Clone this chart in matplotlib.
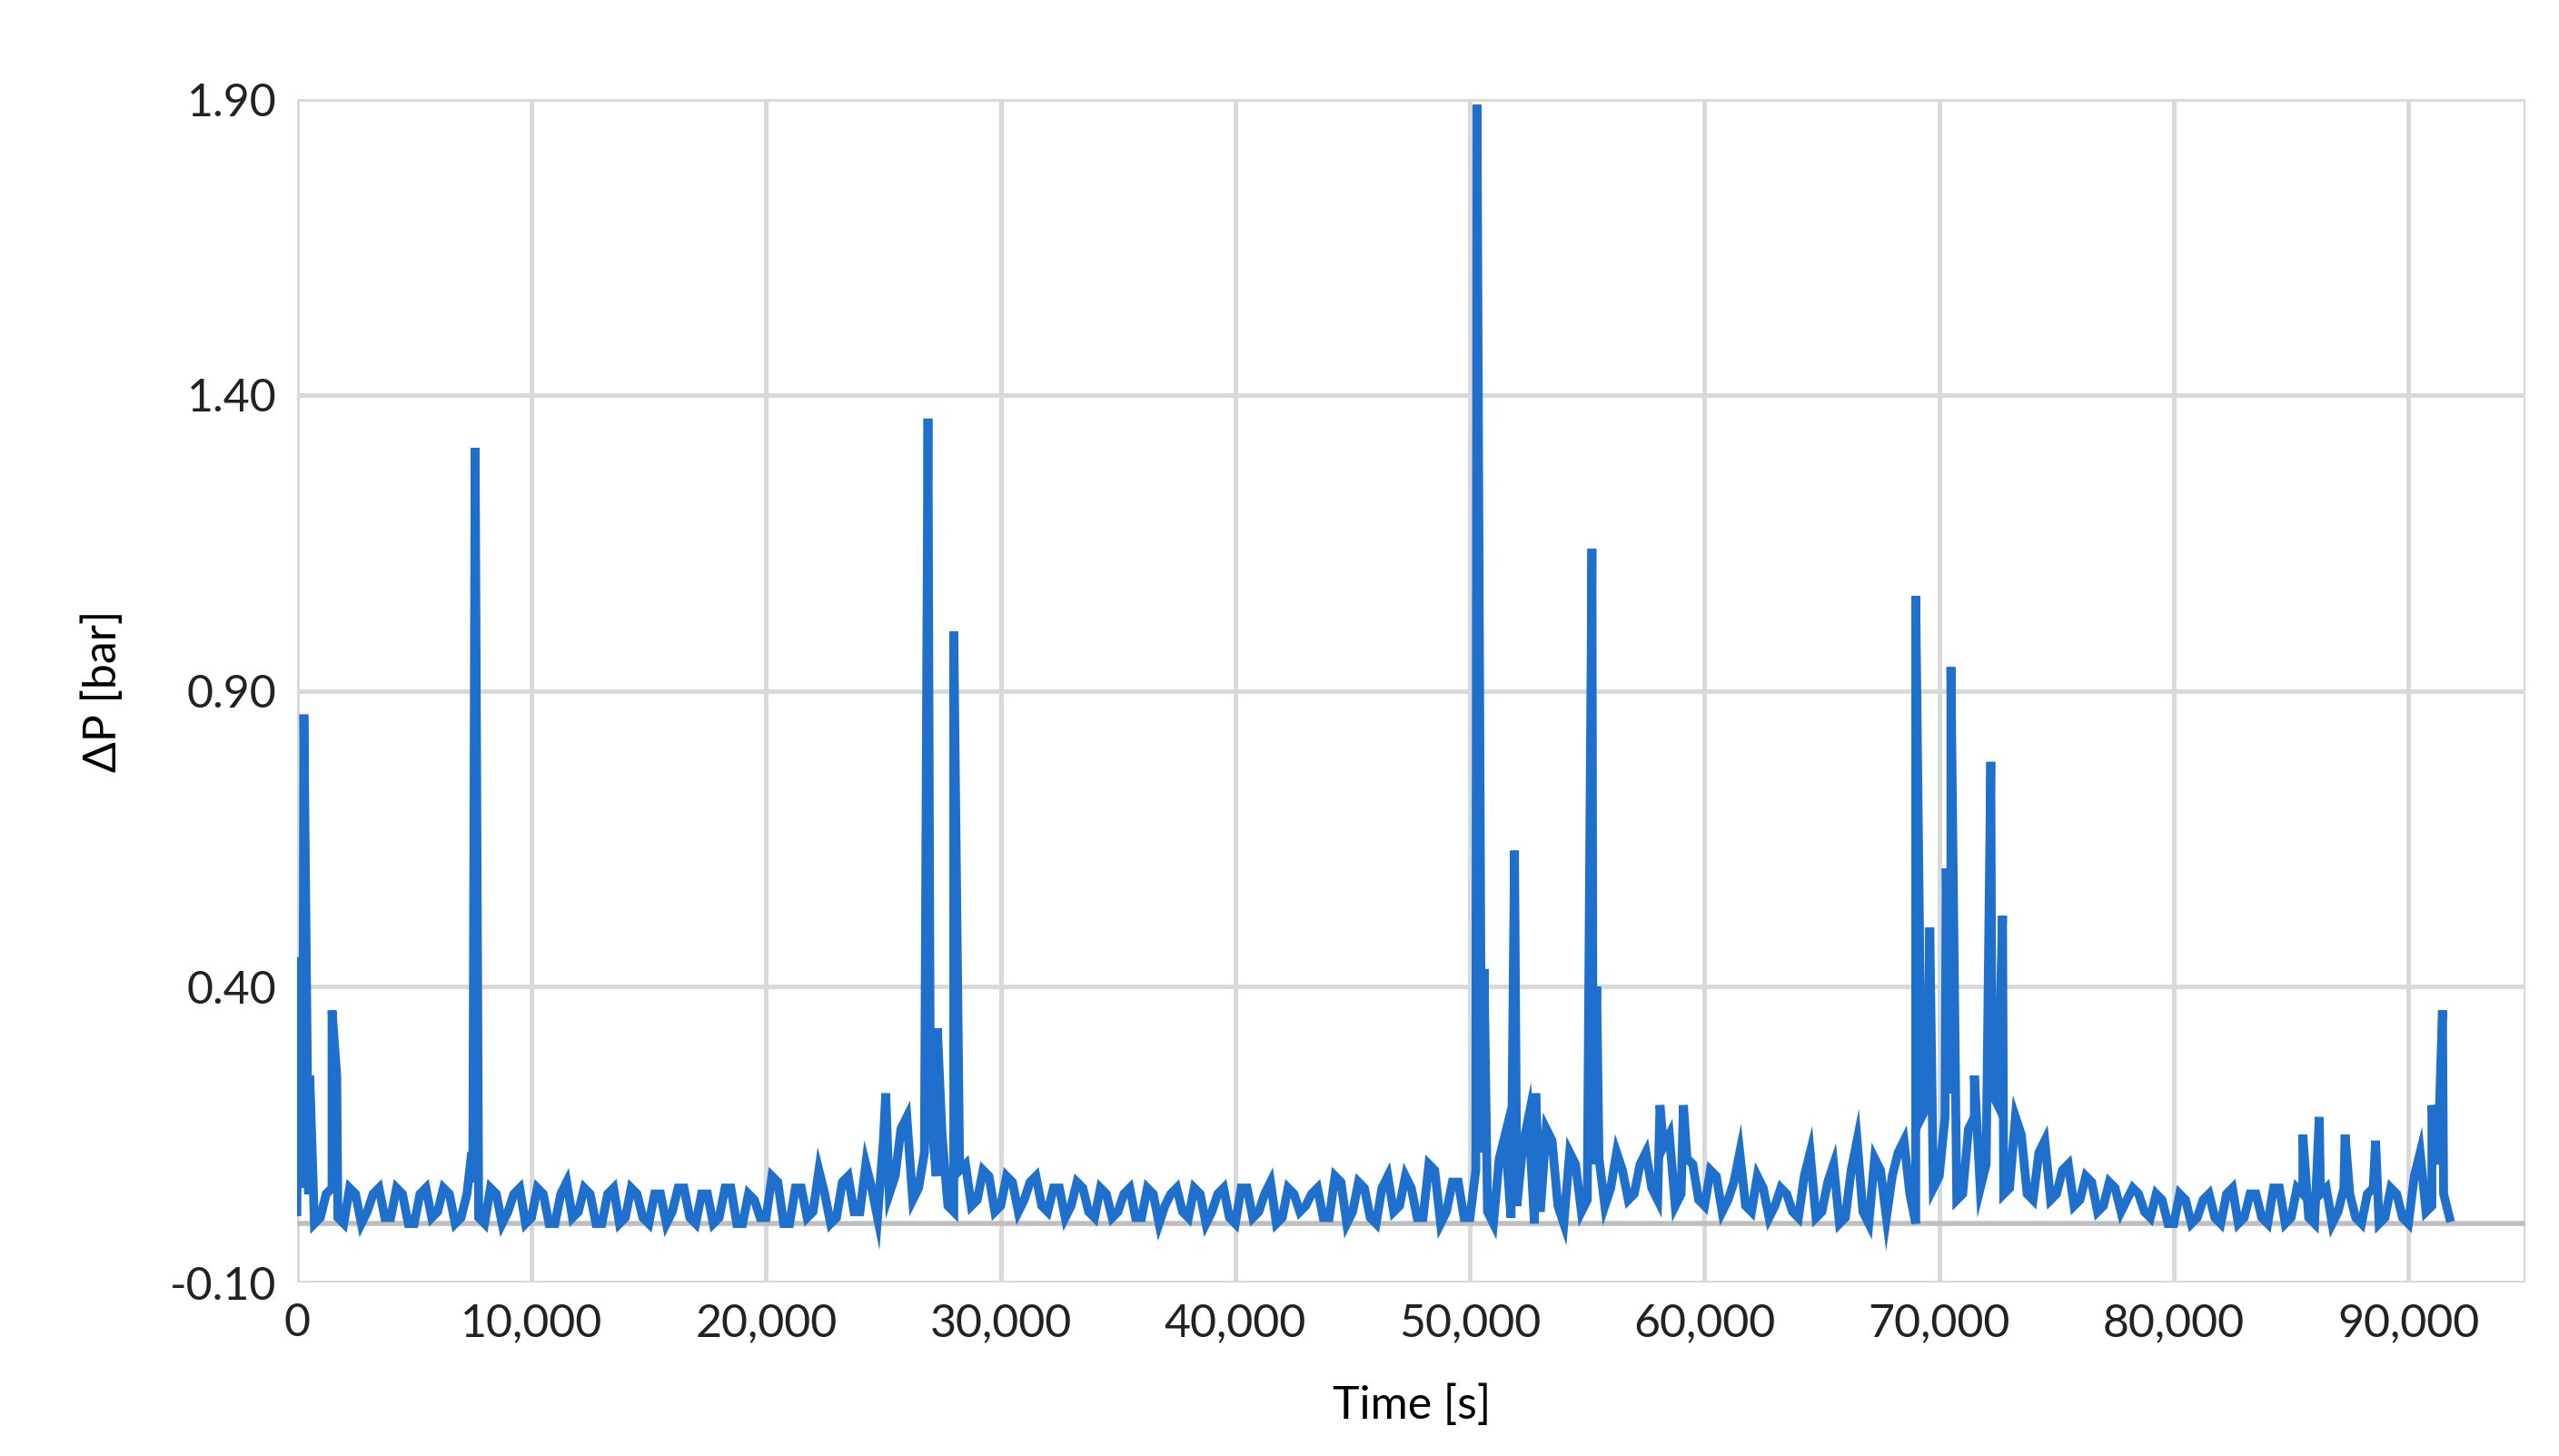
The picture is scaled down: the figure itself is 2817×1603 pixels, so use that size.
"""Pressure drop over time, recreated from reference."""

import matplotlib

matplotlib.use("Agg")
import matplotlib.pyplot as plt
from matplotlib.ticker import FuncFormatter
import numpy as np

# baseline readings every 500 s from 0 to 91,500 s
BASE_STEP = 500
base_values = [
    0.02, 0.05, 0.01, 0.06, 0.00, 0.05, 0.02, 0.06, 0.01, 0.05,
    0.00, 0.06, 0.02, 0.05, 0.01, 0.07, 0.00, 0.05, 0.02, 0.06,
    0.01, 0.05, 0.00, 0.07, 0.02, 0.05, 0.00, 0.06, 0.01, 0.05,
    0.00, 0.05, 0.02, 0.06, 0.00, 0.05, 0.01, 0.06, 0.00, 0.04,
    0.01, 0.07, 0.00, 0.06, 0.02, 0.05, 0.01, 0.08, 0.02, 0.06,
    0.14, 0.08, 0.18, 0.06, 0.20, 0.15, 0.02, 0.10, 0.04, 0.08,
    0.03, 0.07, 0.04, 0.08, 0.02, 0.06, 0.03, 0.06, 0.01, 0.05,
    0.02, 0.06, 0.01, 0.05, 0.03, 0.06, 0.01, 0.05, 0.02, 0.06,
    0.00, 0.06, 0.02, 0.07, 0.01, 0.05, 0.03, 0.06, 0.01, 0.07,
    0.02, 0.06, 0.00, 0.08, 0.03, 0.06, 0.01, 0.09, 0.02, 0.07,
    0.01, 0.12, 0.00, 0.15, 0.03, 0.18, 0.02, 0.14, 0.00, 0.10,
    0.04, 0.11, 0.06, 0.09, 0.05, 0.12, 0.04, 0.15, 0.05, 0.10,
    0.03, 0.08, 0.04, 0.12, 0.02, 0.06, 0.03, 0.05, 0.01, 0.12,
    0.02, 0.10, 0.01, 0.14, 0.00, 0.09, 0.08, 0.14, 0.00, 0.20,
    0.08, 0.22, 0.05, 0.18, 0.10, 0.20, 0.06, 0.15, 0.04, 0.14,
    0.05, 0.10, 0.04, 0.07, 0.03, 0.06, 0.04, 0.05, 0.01, 0.04,
    0.00, 0.04, 0.01, 0.05, 0.00, 0.06, 0.01, 0.05, 0.00, 0.06,
    0.01, 0.05, 0.00, 0.06, 0.02, 0.05, 0.00, 0.06, 0.01, 0.05,
    0.00, 0.12, 0.03, 0.05,
]

# readings in between, at 250 s + every 500 s
mid_values = [
    0.06, 0.00, 0.05, 0.01, 0.06, 0.00, 0.05, 0.01, 0.06, 0.00,
    0.05, 0.01, 0.06, 0.00, 0.05, 0.01, 0.06, 0.00, 0.05, 0.00,
    0.06, 0.00, 0.05, 0.01, 0.06, 0.00, 0.05, 0.00, 0.06, 0.01,
    0.05, 0.00, 0.06, 0.01, 0.05, 0.00, 0.06, 0.00, 0.05, 0.01,
    0.08, 0.00, 0.06, 0.01, 0.09, 0.00, 0.07, 0.02, 0.10, 0.01,
    0.05, 0.16, 0.04, 0.12, 0.08, 0.03, 0.09, 0.03, 0.09, 0.02,
    0.08, 0.02, 0.07, 0.03, 0.06, 0.01, 0.07, 0.02, 0.06, 0.01,
    0.05, 0.01, 0.06, 0.00, 0.05, 0.02, 0.06, 0.00, 0.05, 0.01,
    0.06, 0.01, 0.05, 0.00, 0.06, 0.02, 0.05, 0.01, 0.08, 0.00,
    0.07, 0.01, 0.06, 0.02, 0.08, 0.01, 0.10, 0.00, 0.07, 0.01,
    0.09, 0.02, 0.11, 0.01, 0.13, 0.00, 0.16, 0.03, 0.12, 0.02,
    0.10, 0.03, 0.12, 0.04, 0.10, 0.06, 0.13, 0.03, 0.11, 0.04,
    0.09, 0.02, 0.07, 0.03, 0.08, 0.01, 0.06, 0.02, 0.08, 0.01,
    0.07, 0.00, 0.09, 0.02, 0.11, 0.01, 0.12, 0.05, 0.18, 0.06,
    0.18, 0.04, 0.16, 0.06, 0.22, 0.05, 0.18, 0.05, 0.12, 0.04,
    0.09, 0.03, 0.08, 0.02, 0.07, 0.02, 0.06, 0.02, 0.05, 0.00,
    0.05, 0.00, 0.04, 0.01, 0.05, 0.00, 0.05, 0.01, 0.06, 0.00,
    0.06, 0.01, 0.05, 0.00, 0.06, 0.01, 0.05, 0.00, 0.06, 0.01,
    0.08, 0.02, 0.10, 0.01,
]

# spikes (time in s, dP in bar)
spike_times = [100, 300, 550, 1500, 1700, 7450, 7600, 25100, 26900, 27300,
               28000, 50300, 50600, 51900, 52800, 55200, 55400, 58100, 59100,
               69000, 69600, 70300, 70500, 71500, 72200, 72700, 85500, 86200,
               87300, 88600, 91000, 91450]
spike_values = [0.45, 0.86, 0.25, 0.36, 0.25, 0.12, 1.31, 0.22, 1.36, 0.33,
                1.00, 1.89, 0.43, 0.63, 0.22, 1.14, 0.40, 0.20, 0.20,
                1.06, 0.50, 0.60, 0.94, 0.25, 0.78, 0.52, 0.15, 0.18,
                0.15, 0.14, 0.20, 0.36]

x_ticks = [0, 10000, 20000, 30000, 40000, 50000, 60000, 70000, 80000, 90000]
y_ticks = [-0.10, 0.40, 0.90, 1.40, 1.90]

LINE_COLOR = "#1f6fcc"
GRID_COLOR = "#d9d9d9"

plt.rcParams["font.family"] = ["Lato", "DejaVu Sans"]


def main():
    base_t = np.arange(len(base_values)) * BASE_STEP
    mid_t = base_t[:len(mid_values)] + BASE_STEP // 2
    t = np.concatenate([base_t, mid_t, spike_times])
    v = np.concatenate([base_values, mid_values, spike_values])
    order = np.argsort(t, kind="stable")
    t, v = t[order], v[order]

    fig = plt.figure(figsize=(14.085, 8.015), dpi=200)
    ax = fig.add_axes([0.116, 0.119, 0.871, 0.813])

    ax.plot(t, v, color=LINE_COLOR, linewidth=3.5, solid_joinstyle="miter", zorder=3)
    ax.axhline(0, color="#bfbfbf", linewidth=2.0, zorder=2)

    ax.set_xlim(0, 95000)
    ax.set_ylim(-0.10, 1.90)
    ax.set_xticks(x_ticks)
    ax.set_yticks(y_ticks)
    ax.xaxis.set_major_formatter(FuncFormatter(lambda x, _: f"{int(x):,}"))
    ax.yaxis.set_major_formatter(FuncFormatter(lambda y, _: f"{y:.2f}"))
    ax.grid(True, color=GRID_COLOR, linewidth=1.8, zorder=0)
    ax.axvline(95000, color=GRID_COLOR, linewidth=1.8, zorder=0)
    for s in ax.spines.values():
        s.set_visible(False)
    ax.tick_params(length=0, labelsize=18, colors="#222222", pad=8)
    ax.set_xlabel("Time [s]", fontsize=18, labelpad=16)
    ax.set_ylabel("ΔP [bar]", fontsize=18, labelpad=18)
    ax.set_axisbelow(True)

    fig.savefig("out.png", dpi=200)


if __name__ == "__main__":
    main()
